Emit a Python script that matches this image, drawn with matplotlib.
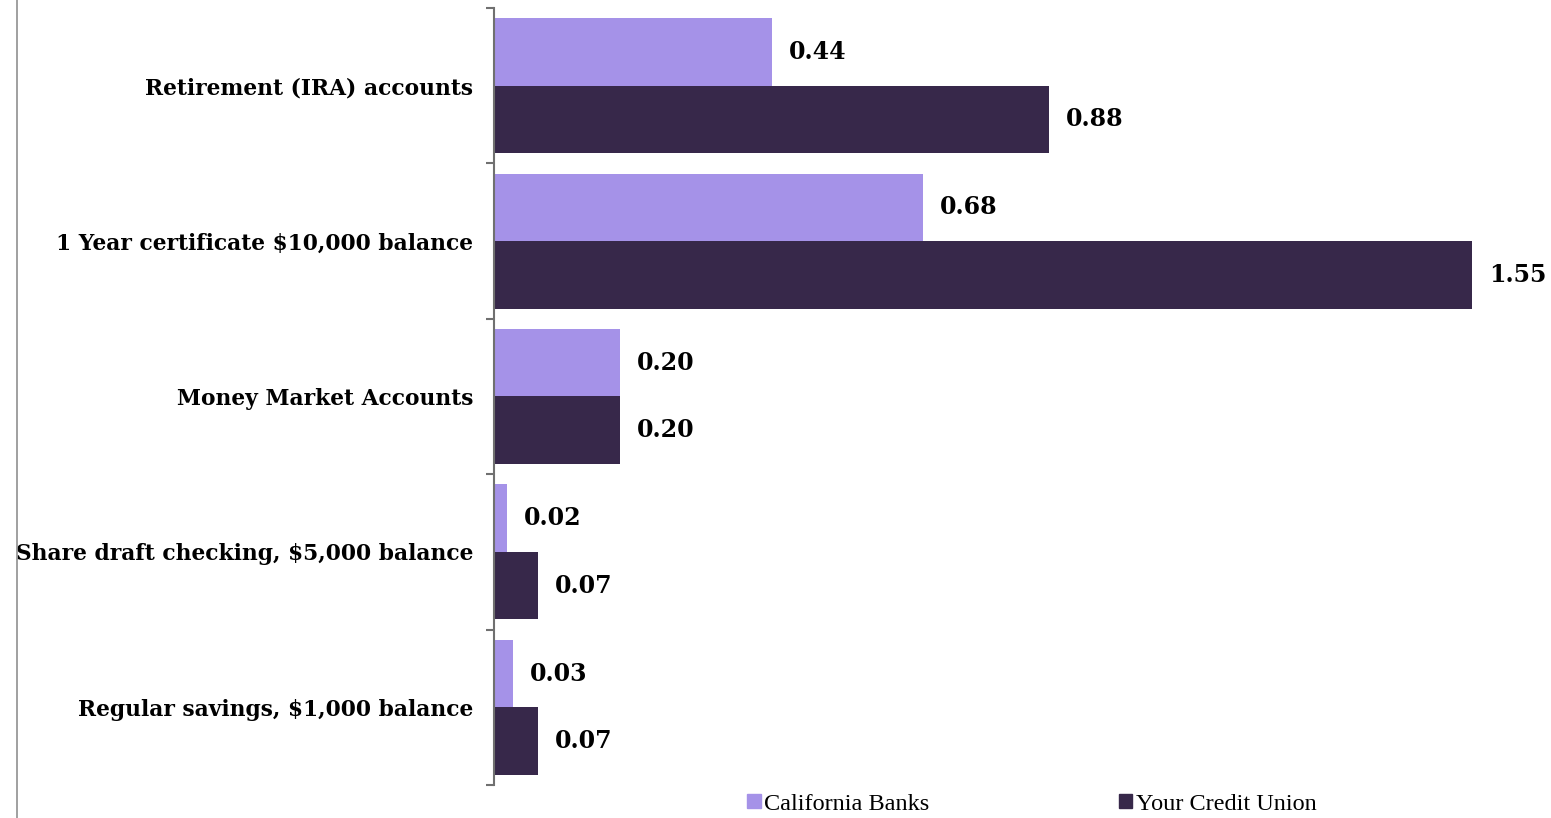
import numpy as np
import matplotlib.pyplot as plt
from matplotlib.lines import Line2D
from matplotlib.patches import Patch

categories = ['Retirement (IRA) accounts', '1 Year certificate $10,000 balance',
              'Money Market Accounts', 'Share draft checking, $5,000 balance',
              'Regular savings, $1,000 balance']
california_banks = [0.44, 0.68, 0.20, 0.02, 0.03]
credit_union = [0.88, 1.55, 0.20, 0.07, 0.07]
series_names = ['California Banks', 'Your Credit Union']

light = '#A592E8'
dark = '#37284A'

fig = plt.figure(figsize=(15.51, 8.18), dpi=100)
ax = fig.add_axes([494 / 1551, 1 - 785 / 818, 1041 / 1551, 777 / 818])

y = np.arange(len(categories))
h = 0.435
ax.barh(y - h / 2, california_banks, height=h, color=light)
ax.barh(y + h / 2, credit_union, height=h, color=dark)

for yi, v in zip(y - h / 2, california_banks):
    ax.text(v + 0.027, yi, f'{v:.2f}', va='center', ha='left',
            family='DejaVu Serif', weight='bold', fontsize=17)
for yi, v in zip(y + h / 2, credit_union):
    ax.text(v + 0.027, yi, f'{v:.2f}', va='center', ha='left',
            family='DejaVu Serif', weight='bold', fontsize=17)

ax.set_xlim(0, 1.65)
ax.set_ylim(len(categories) - 0.5, -0.5)
ax.set_yticks(y)
ax.set_yticklabels(categories, family='DejaVu Serif', weight='bold', fontsize=15.7)
ax.set_yticks(np.arange(len(categories) + 1) - 0.5, minor=True)
ax.tick_params(axis='y', which='major', length=0, pad=15)
ax.tick_params(axis='y', which='minor', length=6, color='#707070', width=1.5)
ax.set_xticks([])
for s in ['top', 'right', 'bottom']:
    ax.spines[s].set_visible(False)
ax.spines['left'].set_color('#707070')
ax.spines['left'].set_linewidth(1.5)

# thin border line at the left of the figure
fig.add_artist(Line2D([17 / 1551, 17 / 1551], [0, 1], color='#909090', lw=1.2))

handles = [Patch(color=light), Patch(color=dark)]
fig.legend(handles, series_names, loc='center', bbox_to_anchor=(1032 / 1551, 1 - 804 / 818),
           ncol=2, frameon=False, handlelength=0.55, handleheight=0.55, handletextpad=0.15,
           columnspacing=7.8, prop={'family': 'Liberation Serif', 'size': 17.5})

fig.savefig('out.png', dpi=100)
